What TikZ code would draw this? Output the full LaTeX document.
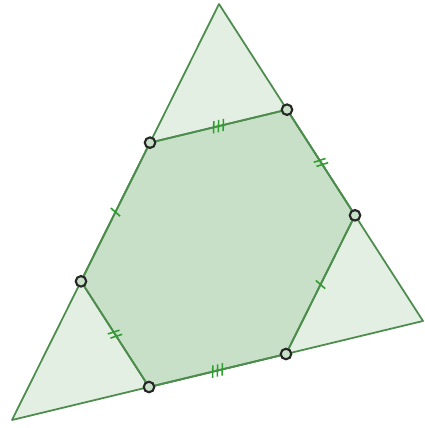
\documentclass[tikz,border=0pt]{standalone}
\usepackage{xcolor}
\usepackage{tikz}
\usetikzlibrary{decorations.markings}
\definecolor{trifill}{HTML}{E3EFE3}
\definecolor{hexfill}{HTML}{C7E0C7}
\definecolor{edgegreen}{HTML}{4C8C4C}
\definecolor{tickgreen}{HTML}{2E9E2E}
\tikzset{
  tripath/.style={draw=edgegreen,line width=1pt,fill=trifill,line join=round},
  hexpath/.style={draw=edgegreen,line width=1pt,fill=hexfill,line join=round},
  ptnode/.style={circle,draw=black!85,fill=hexfill,line width=1.2pt,minimum size=6pt,inner sep=0pt},
  tickline/.style={tickgreen,line width=0.9pt},
  tickone/.style={postaction={decorate,decoration={markings,
    mark=at position 0.5 with {\draw[tickline] (-0.9pt,-3.4pt) -- (0.9pt,3.4pt);}}}},
  ticktwo/.style={postaction={decorate,decoration={markings,
    mark=at position 0.5 with {\draw[tickline] (-2.3pt,-3.4pt) -- (-0.5pt,3.4pt) (0.5pt,-3.4pt) -- (2.3pt,3.4pt);}}}},
  tickthree/.style={postaction={decorate,decoration={markings,
    mark=at position 0.5 with {\draw[tickline] (-3.7pt,-3.4pt) -- (-1.9pt,3.4pt) (-0.9pt,-3.4pt) -- (0.9pt,3.4pt) (1.9pt,-3.4pt) -- (3.7pt,3.4pt);}}}},
}
\begin{document}
\begin{tikzpicture}[x=0.02cm,y=-0.02cm]
  \useasboundingbox (0,0) rectangle (424,428);
  % triangle corners
  \coordinate (vA) at (219,4);
  \coordinate (vB) at (12,420);
  \coordinate (vC) at (423,321);
  \filldraw[tripath] (vA) -- (vB) -- (vC) -- cycle;
  % trisection points
  \path (vA) -- (vB) coordinate[pos=1/3] (pAB1) coordinate[pos=2/3] (pAB2);
  \path (vA) -- (vC) coordinate[pos=1/3] (pAC1) coordinate[pos=2/3] (pAC2);
  \path (vB) -- (vC) coordinate[pos=1/3] (pBC1) coordinate[pos=2/3] (pBC2);
  \filldraw[hexpath] (pAB1) -- (pAC1) -- (pAC2) -- (pBC2) -- (pBC1) -- (pAB2) -- cycle;
  \draw[edgegreen,line width=1pt,tickthree] (pAB1) -- (pAC1);
  \draw[edgegreen,line width=1pt,ticktwo] (pAC1) -- (pAC2);
  \draw[edgegreen,line width=1pt,tickone] (pAC2) -- (pBC2);
  \draw[edgegreen,line width=1pt,tickthree] (pBC1) -- (pBC2);
  \draw[edgegreen,line width=1pt,ticktwo] (pAB2) -- (pBC1);
  \draw[edgegreen,line width=1pt,tickone] (pAB2) -- (pAB1);
  \node[ptnode] (nP1) at (pAB1) {};
  \node[ptnode] (nP2) at (pAC1) {};
  \node[ptnode] (nP3) at (pAC2) {};
  \node[ptnode] (nP4) at (pBC2) {};
  \node[ptnode] (nP5) at (pBC1) {};
  \node[ptnode] (nP6) at (pAB2) {};
\end{tikzpicture}
\end{document}
